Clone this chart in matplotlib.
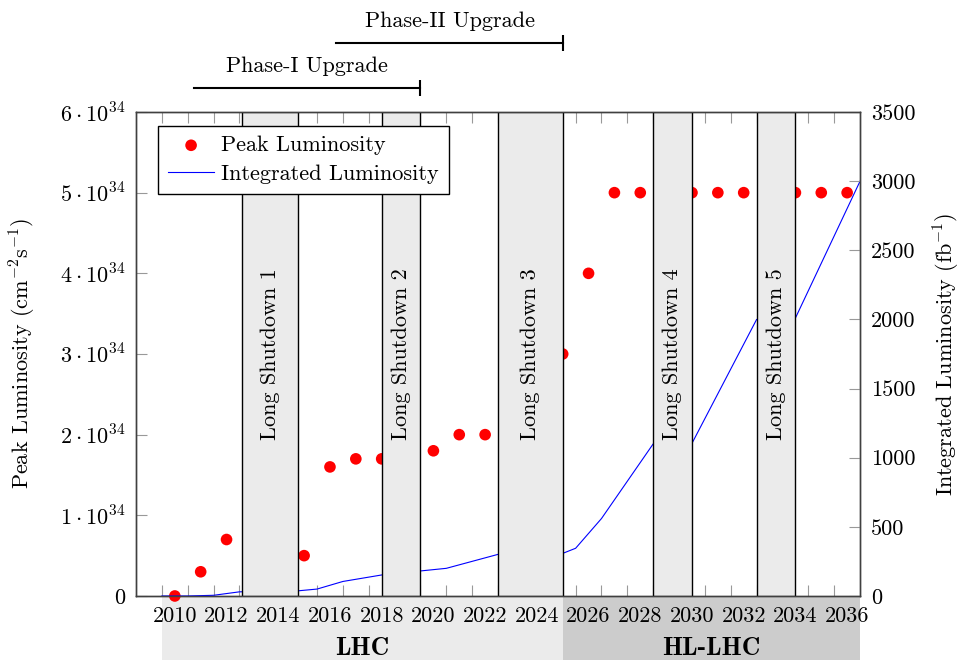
import numpy as np
import matplotlib
matplotlib.use('Agg')
import matplotlib.pyplot as plt
import matplotlib.transforms as mtransforms
from matplotlib.patches import Rectangle

plt.rcParams['font.family'] = 'cmr10'
plt.rcParams['mathtext.fontset'] = 'cm'
plt.rcParams['axes.unicode_minus'] = False
plt.rcParams['font.size'] = 16

# peak luminosity (cm^-2 s^-1), visible points
peak_years = [2010, 2011, 2012, 2015, 2016, 2017, 2018, 2020, 2021, 2022,
              2025, 2026, 2027, 2028, 2030, 2031, 2032, 2034, 2035, 2036]
peak_lumi = [0.0, 0.3e34, 0.7e34, 0.5e34, 1.6e34, 1.7e34, 1.7e34, 1.8e34, 2.0e34, 2.0e34,
             3.0e34, 4.0e34, 5.0e34, 5.0e34, 5.0e34, 5.0e34, 5.0e34, 5.0e34, 5.0e34, 5.0e34]

# integrated luminosity (fb^-1)
int_years = [2009.5, 2010.5, 2011.5, 2012.5, 2014.75, 2015.5, 2016.5, 2018.0, 2019.5,
             2020.5, 2022.5, 2025.0, 2025.5, 2026.5, 2028.5, 2030.0, 2032.5, 2034.0, 2036.5]
int_lumi = [0, 0, 5, 30, 37, 50, 105, 152, 181,
            200, 301, 308, 345, 560, 1100, 1104, 2000, 2010, 3000]

# long shutdowns
shutdown_names = ['Long Shutdown 1', 'Long Shutdown 2', 'Long Shutdown 3',
                  'Long Shutdown 4', 'Long Shutdown 5']
shutdown_start = [2012.6, 2018.0, 2022.5, 2028.5, 2032.5]
shutdown_end = [2014.75, 2019.5, 2025.0, 2030.0, 2034.0]

# upgrade phases
phase_names = ['Phase-I Upgrade', 'Phase-II Upgrade']
phase_start = [2010.75, 2016.25]
phase_end = [2019.5, 2025.0]

# machine eras (band under x axis)
era_names = ['LHC', 'HL-LHC']
era_start = [2009.5, 2025.0]
era_end = [2025.0, 2036.5]
era_colors = ['#ebebeb', '#cccccc']

year_ticks = list(range(2010, 2037, 2))
peak_ticks = [0, 1e34, 2e34, 3e34, 4e34, 5e34, 6e34]
peak_tick_labels = ['0'] + [r'$%d\cdot10^{34}$' % k for k in range(1, 7)]
int_ticks = list(range(0, 3501, 500))

fig = plt.figure(figsize=(9.6, 6.6), dpi=100)
ax = fig.add_axes([0.1417, 0.0970, 0.7542, 0.7333])
ax2 = ax.twinx()

sc = ax.scatter(peak_years, peak_lumi, s=70, color='red', edgecolors='none',
                clip_on=False, zorder=3, label='Peak Luminosity')
ln, = ax2.plot(int_years, int_lumi, color='blue', lw=0.8, zorder=1,
               label='Integrated Luminosity')

trans = mtransforms.blended_transform_factory(ax2.transData, ax2.transAxes)
for name, s, e in zip(shutdown_names, shutdown_start, shutdown_end):
    ax2.add_patch(Rectangle((s, 0), e - s, 1, transform=trans, facecolor='#ebebeb',
                            edgecolor='black', lw=1.0, zorder=2))
    ax2.text((s + e) / 2, 0.5, name, transform=trans, rotation=90,
             ha='center', va='center', zorder=3)

# phases above the plot
phase_levels = [1.0496, 1.1436]
for name, s, e, lev in zip(phase_names, phase_start, phase_end, phase_levels):
    ax2.plot([s, e], [lev, lev], transform=trans, color='black', lw=1.5, clip_on=False)
    ax2.plot([e], [lev], transform=trans, marker='|', ms=11, mew=1.5,
             color='black', clip_on=False)
    ax2.text((s + e) / 2, lev + 0.044, name, transform=trans, ha='center', va='center')

# era band under the x axis
trans1 = mtransforms.blended_transform_factory(ax.transData, ax.transAxes)
for name, s, e, c in zip(era_names, era_start, era_end, era_colors):
    ax.add_patch(Rectangle((s, -0.14), e - s, 0.14, transform=trans1, facecolor=c,
                           edgecolor='none', clip_on=False, zorder=0.2))
    ax.text((s + e) / 2, -0.109, name, transform=trans1, ha='center', va='center',
            family='cmb10', fontsize=18.5)

ax.set_xlim(2008.5, 2036.5)
ax.set_ylim(0, 6e34)
ax2.set_ylim(0, 3500)

ax.set_xticks(year_ticks)
ax.set_xticklabels([str(y) for y in year_ticks])
ax.set_xticks(np.arange(2009.5, 2036.0, 1.0), minor=True)
ax.tick_params(axis='x', which='major', length=0, pad=7.5)
ax.tick_params(axis='x', which='minor', direction='in', length=8, top=True,
               bottom=True, color='#999999', width=0.8)

ax.set_yticks(peak_ticks)
ax.set_yticklabels(peak_tick_labels)
ax.tick_params(axis='y', direction='in', length=8, pad=8, color='#999999', width=0.8)
ax2.set_yticks(int_ticks)
ax2.tick_params(axis='y', direction='in', length=8, pad=8, color='#999999', width=0.8)

ax.set_ylabel('Peak Luminosity (cm$^{-2}$s$^{-1}$)')
ax.yaxis.set_label_coords(-0.135, 0.5)
ax2.set_ylabel('Integrated Luminosity (fb$^{-1}$)')
ax2.yaxis.set_label_coords(1.099, 0.5)

for a in (ax, ax2):
    for sp in a.spines.values():
        sp.set_color('#404040')
        sp.set_linewidth(1.0)

leg = ax2.legend([sc, ln], ['Peak Luminosity', 'Integrated Luminosity'],
                 loc='upper left', bbox_to_anchor=(0.03, 0.972), borderaxespad=0,
                 fancybox=False, edgecolor='black', framealpha=1, handlelength=2.1,
                 handletextpad=0.3, labelspacing=0.4, borderpad=0.45, scatterpoints=1)
leg.get_frame().set_linewidth(1.0)
leg.set_zorder(10)

fig.savefig('out.png', dpi=100)
